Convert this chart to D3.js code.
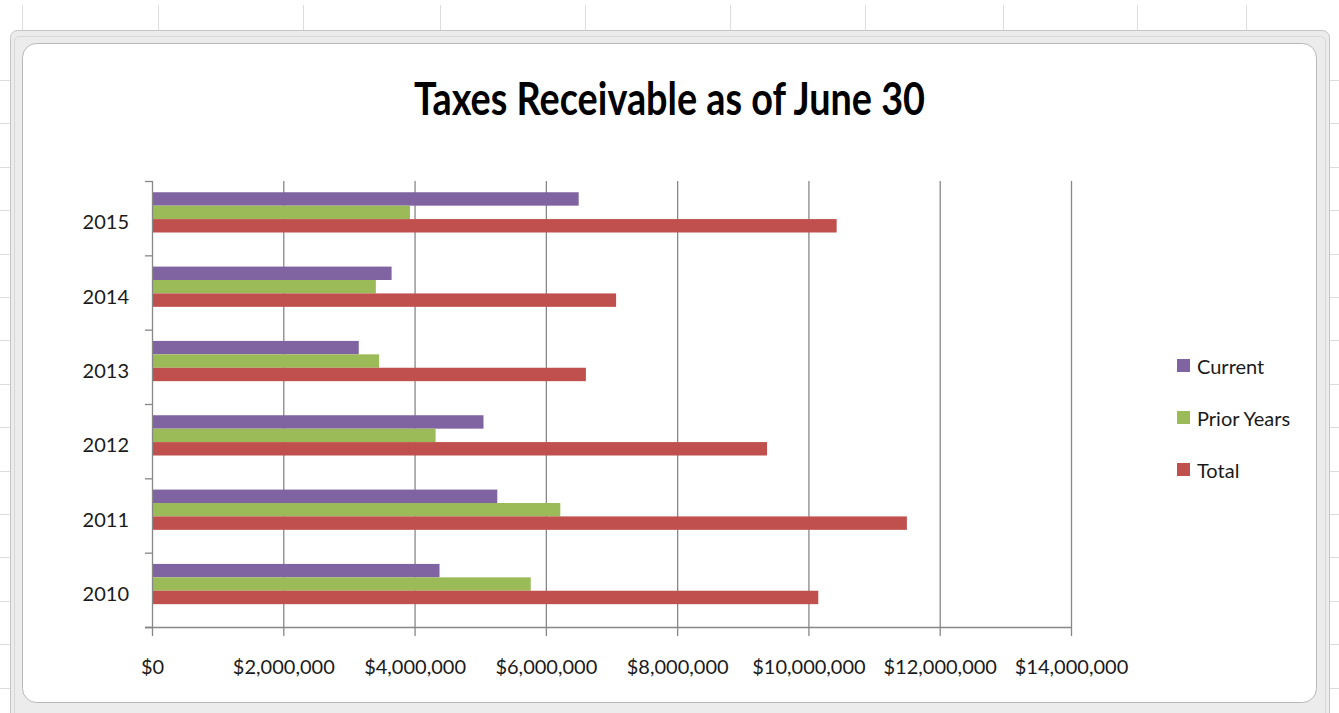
<!DOCTYPE html>
<html>
<head>
<meta charset="utf-8">
<script src="https://cdn.jsdelivr.net/npm/d3@7"></script>
<style>
  body { margin: 0; background: #fff; }
  svg { display: block; }
  text { font-family: Lato, "Open Sans", sans-serif; fill: #1a1a1a; }
</style>
</head>
<body>
<div id="chart"></div>
<script>
// Values, in dollars
const years = ["2010", "2011", "2012", "2013", "2014", "2015"];
const seriesNames = ["Current", "Prior Years", "Total"];
const current = [4380000, 5260000, 5050000, 3150000, 3650000, 6500000];
const priorYears = [5770000, 6220000, 4320000, 3460000, 3410000, 3930000];
const total = [10150000, 11500000, 9370000, 6610000, 7070000, 10430000];
const xTicks = [0, 2000000, 4000000, 6000000, 8000000, 10000000, 12000000, 14000000];

// Excel 2007 default palette
const COLORS = ["#8064A2", "#9BBB59", "#C0504D"];

const W = 1339, H = 713;
const plot = { left: 152, right: 1071, top: 181, bottom: 627 };

const svg = d3.select("#chart")
    .append("svg")
    .attr("width", W)
    .attr("height", H);

// spreadsheet grid behind the chart object
const sheet = svg.append("g").attr("stroke", "#dcdcdc").attr("stroke-width", 1);
const colLines = [22, 158, 303, 440, 585, 730, 865, 1003, 1137, 1246];
sheet.selectAll(".col").data(colLines).enter().append("line")
    .attr("x1", d => d + 0.5).attr("x2", d => d + 0.5)
    .attr("y1", 5).attr("y2", H);
sheet.selectAll(".row").data(d3.range(80, H, 43.4)).enter().append("line")
    .attr("x1", 0).attr("x2", W)
    .attr("y1", d => Math.round(d) + 0.5).attr("y2", d => Math.round(d) + 0.5);

// chart object frame
svg.append("rect")
    .attr("x", 10.5).attr("y", 30.5)
    .attr("width", 1319).attr("height", 700)
    .attr("rx", 7)
    .attr("fill", "#ececec")
    .attr("stroke", "#c4c4c4");
svg.append("rect")
    .attr("x", 14.5).attr("y", 36.5)
    .attr("width", 1311).attr("height", 690)
    .attr("rx", 5)
    .attr("fill", "none")
    .attr("stroke", "#d8d8d8");
svg.append("rect")
    .attr("x", 22.5).attr("y", 43.5)
    .attr("width", 1294).attr("height", 659)
    .attr("rx", 14)
    .attr("fill", "#fff")
    .attr("stroke", "#b8b8b8");

// title
svg.append("text")
    .attr("x", 669.5)
    .attr("y", 115)
    .attr("text-anchor", "middle")
    .attr("font-size", 45)
    .attr("font-weight", "bold")
    .attr("textLength", 511)
    .attr("lengthAdjust", "spacingAndGlyphs")
    .style("fill", "#000")
    .text("Taxes Receivable as of June 30");

// scales
const x = d3.scaleLinear()
    .domain([0, 14000000])
    .range([plot.left, plot.right]);

const y = d3.scaleBand()
    .domain(years.slice().reverse())
    .range([plot.top, plot.bottom])
    .padding(0);

const ySub = d3.scaleBand()
    .domain(seriesNames)
    .range([0, y.bandwidth()])
    .paddingInner(0)
    .paddingOuter(1.27)
    .align(0.33);

const color = d3.scaleOrdinal()
    .domain(seriesNames)
    .range(COLORS);

const chart = svg.append("g");

// vertical gridlines
chart.append("g")
    .selectAll("line")
    .data(xTicks.slice(1))
    .enter().append("line")
    .attr("x1", d => x(d) + 0.5).attr("x2", d => x(d) + 0.5)
    .attr("y1", plot.top).attr("y2", plot.bottom)
    .attr("stroke", "#878787")
    .attr("stroke-width", 1.3);

// bars
const rows = years.map((yr, i) => ({
    year: yr,
    values: [
        { name: "Current", value: current[i] },
        { name: "Prior Years", value: priorYears[i] },
        { name: "Total", value: total[i] }
    ]
}));

const groups = chart.selectAll(".year")
    .data(rows)
    .enter().append("g")
    .attr("transform", d => "translate(0," + y(d.year) + ")");

groups.selectAll("rect")
    .data(d => d.values)
    .enter().append("rect")
    .attr("x", x(0))
    .attr("y", d => ySub(d.name))
    .attr("width", d => x(d.value) - x(0))
    .attr("height", ySub.bandwidth())
    .attr("fill", d => color(d.name));

// x axis
const xAxis = chart.append("g")
    .attr("transform", "translate(0," + plot.bottom + ")")
    .call(d3.axisBottom(x)
        .tickValues(xTicks)
        .tickFormat(d3.format("$,"))
        .tickSize(9)
        .tickSizeOuter(0));
xAxis.select(".domain")
    .attr("stroke", "#878787")
    .attr("stroke-width", 1.3)
    .attr("d", "M" + (plot.left - 7) + ",0.5H" + plot.right);
xAxis.selectAll(".tick line")
    .attr("stroke", "#878787")
    .attr("stroke-width", 1.3);
xAxis.selectAll(".tick text")
    .attr("y", 47)
    .attr("dy", 0)
    .attr("font-size", 20)
    .attr("font-family", null)
    .attr("fill", null);

// y axis
const yAxis = chart.append("g")
    .attr("transform", "translate(" + plot.left + ",0)")
    .call(d3.axisLeft(y).tickSize(0).tickPadding(23));
yAxis.select(".domain")
    .attr("stroke", "#878787")
    .attr("stroke-width", 1.3)
    .attr("d", "M0.5," + plot.top + "V" + plot.bottom);
yAxis.selectAll(".tick text")
    .attr("dy", "0.55em")
    .attr("font-size", 20)
    .attr("font-family", null)
    .attr("fill", null);

// category boundary tick marks
yAxis.selectAll(".bound")
    .data(years.concat(["_end"]))
    .enter().append("line")
    .attr("x1", -7).attr("x2", 0)
    .attr("y1", d => (d === "_end" ? plot.bottom : y(d) + y.bandwidth()) + 0.5)
    .attr("y2", d => (d === "_end" ? plot.bottom : y(d) + y.bandwidth()) + 0.5)
    .attr("stroke", "#878787")
    .attr("stroke-width", 1.3);
yAxis.append("line")
    .attr("x1", -7).attr("x2", 0)
    .attr("y1", plot.top + 0.5).attr("y2", plot.top + 0.5)
    .attr("stroke", "#878787")
    .attr("stroke-width", 1.3);

// legend
const legend = svg.append("g")
    .attr("transform", "translate(1177,366)");
const items = legend.selectAll("g")
    .data(seriesNames)
    .enter().append("g")
    .attr("transform", (d, i) => "translate(0," + i * 52 + ")");
items.append("rect")
    .attr("x", 0).attr("y", -7)
    .attr("width", 13).attr("height", 13)
    .attr("fill", d => color(d));
items.append("text")
    .attr("x", 20)
    .attr("y", 8)
    .attr("font-size", 20)
    .text(d => d);
</script>
</body>
</html>
